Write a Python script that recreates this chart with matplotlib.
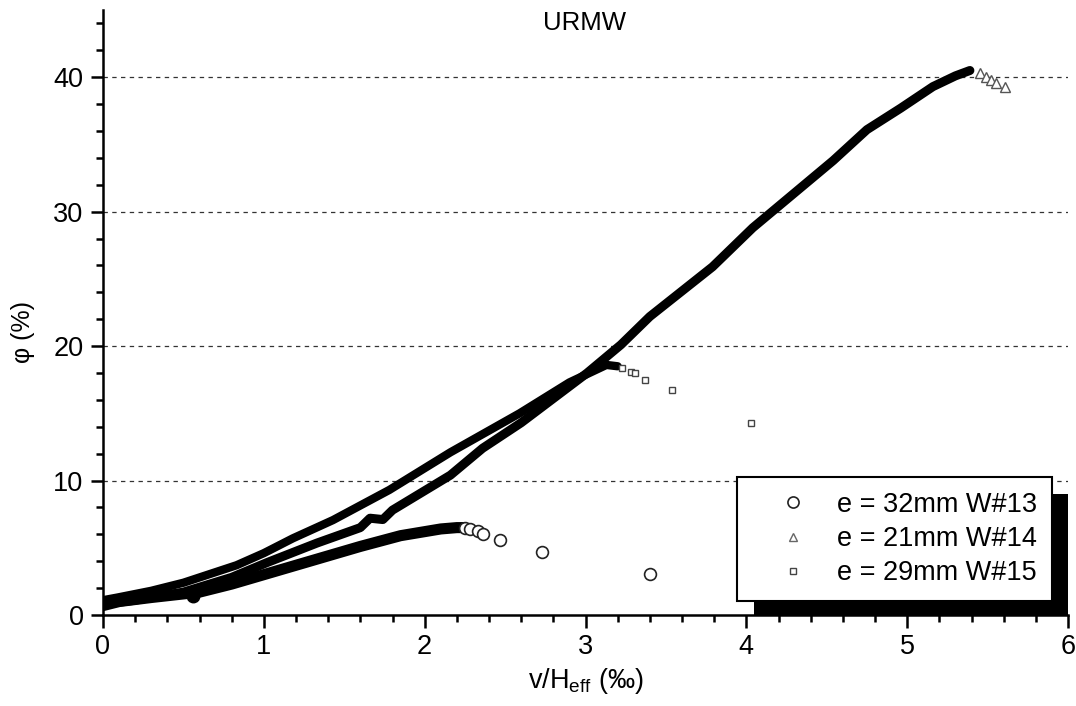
import matplotlib
matplotlib.use("Agg")
import matplotlib.pyplot as plt
from matplotlib.lines import Line2D
from matplotlib.patches import Rectangle

plt.rcParams['font.family'] = ['Liberation Sans', 'DejaVu Sans']
plt.rcParams['mathtext.default'] = 'regular'

# ---- data ----
w13_x = [0.0, 0.1, 0.3, 0.6, 0.8, 1.0, 1.2, 1.4, 1.6, 1.85, 2.0, 2.1, 2.2, 2.24]
w13_y = [0.7, 1.0, 1.3, 1.7, 2.3, 3.0, 3.7, 4.4, 5.1, 5.9, 6.2, 6.4, 6.5, 6.5]
w13_tail_x = [2.25, 2.28, 2.33, 2.36, 2.47, 2.73, 3.40]
w13_tail_y = [6.5, 6.4, 6.25, 6.0, 5.6, 4.7, 3.05]
w13_blob_x = [0.56]
w13_blob_y = [1.45]

w14_x = [0.0, 0.2, 0.5, 0.8, 1.02, 1.33, 1.60, 1.66, 1.74, 1.80, 2.16, 2.36, 2.6,
         3.01, 3.22, 3.40, 3.79, 4.04, 4.17, 4.54, 4.75, 4.96, 5.16, 5.30, 5.39]
w14_y = [0.8, 1.1, 1.7, 2.8, 3.9, 5.35, 6.5, 7.2, 7.1, 7.8, 10.4, 12.4, 14.3,
         18.0, 20.1, 22.2, 25.9, 28.8, 30.1, 33.8, 36.1, 37.7, 39.3, 40.1, 40.5]
w14_tail_x = [5.45, 5.49, 5.52, 5.55, 5.61]
w14_tail_y = [40.3, 40.0, 39.8, 39.6, 39.3]

w15_x = [0.0, 0.09, 0.3, 0.5, 0.83, 1.0, 1.18, 1.43, 1.78, 2.16, 2.59, 2.9, 3.13, 3.2]
w15_y = [1.1, 1.3, 1.8, 2.4, 3.7, 4.6, 5.7, 7.06, 9.3, 12.1, 15.0, 17.3, 18.6, 18.5]
w15_tail_x = [3.23, 3.28, 3.31, 3.37, 3.54, 4.03]
w15_tail_y = [18.4, 18.1, 18.0, 17.5, 16.7, 14.3]

labels = ["e = 32mm W#13", "e = 21mm W#14", "e = 29mm W#15"]
x_ticks = [0, 1, 2, 3, 4, 5, 6]
y_ticks = [0, 10, 20, 30, 40]

# ---- figure ----
fig = plt.figure(figsize=(10.76, 7.06), dpi=100)
ax = fig.add_axes([103/1076, (706-615)/706, (1068-103)/1076, (615-10)/706])

ax.plot(w15_x, w15_y, color='black', lw=6.0, solid_capstyle='round', solid_joinstyle='round', zorder=3)
ax.plot(w14_x, w14_y, color='black', lw=6.5, solid_capstyle='round', solid_joinstyle='round', zorder=3)
ax.plot(w13_x, w13_y, color='black', lw=8.0, solid_capstyle='round', solid_joinstyle='round', zorder=3)
ax.plot(w13_blob_x, w13_blob_y, 'o', color='black', ms=9, zorder=3)

ax.plot(w13_tail_x, w13_tail_y, 'o', mfc='white', mec='#222222', mew=1.2, ms=8.5, ls='none', zorder=4)
ax.plot(w14_tail_x, w14_tail_y, '^', mfc='white', mec='#555555', mew=1.0, ms=6.5, ls='none', zorder=4)
ax.plot(w15_tail_x, w15_tail_y, 's', mfc='white', mec='#444444', mew=1.0, ms=5, ls='none', zorder=4)

ax.set_xlim(0, 6)
ax.set_ylim(0, 45)
ax.set_xticks(x_ticks)
ax.set_yticks(y_ticks)
ax.set_xticks([i * 0.2 for i in range(31)], minor=True)
ax.set_yticks([i * 2 for i in range(23)], minor=True)

for s in ['top', 'right']:
    ax.spines[s].set_visible(False)
for s in ['left', 'bottom']:
    ax.spines[s].set_linewidth(1.8)

ax.tick_params(axis='both', which='major', direction='out', length=9, width=1.8,
               labelsize=19.5, pad=5)
ax.tick_params(axis='both', which='minor', direction='out', length=5, width=1.8)

for yv in y_ticks[1:]:
    ax.axhline(yv, color='#333333', lw=0.9, ls=(0, (3.5, 3.5)), zorder=1)

ax.set_xlabel("v/H$_{eff}$ (‰)", fontsize=19.5, labelpad=4)
ax.set_ylabel("φ (%)", fontsize=18)
ax.yaxis.set_label_coords((35 - 103) / 965, (615 - 332) / 605)
fig.text(585/1076, (706-23)/706, "URMW", fontsize=18.5, ha='center', va='center')

handles = [
    Line2D([], [], marker='o', ls='none', mfc='white', mec='#222222', mew=1.2, ms=8),
    Line2D([], [], marker='^', ls='none', mfc='white', mec='#666666', mew=1.0, ms=5.5),
    Line2D([], [], marker='s', ls='none', mfc='white', mec='#444444', mew=1.0, ms=5),
]
leg = ax.legend(handles, labels, loc='upper left', bbox_to_anchor=(0.657, 0.228),
                fontsize=19.5, frameon=True, fancybox=False, framealpha=1,
                edgecolor='black', borderaxespad=0, borderpad=0.55,
                handlelength=3.0, handletextpad=0.15, labelspacing=0.3)
leg.get_frame().set_linewidth(1.5)
leg.set_zorder(6)

fig.canvas.draw()
bb = leg.get_window_extent()
inv = ax.transAxes.inverted()
(x0, y0) = inv.transform((bb.x0 + 17, bb.y0 - 17))
(x1, y1) = inv.transform((bb.x1 + 17, bb.y1 - 17))
shadow = Rectangle((x0, y0), x1 - x0, y1 - y0, transform=ax.transAxes,
                   facecolor='black', edgecolor='none', zorder=5, clip_on=True)
ax.add_patch(shadow)

fig.savefig("out.png", dpi=100)
